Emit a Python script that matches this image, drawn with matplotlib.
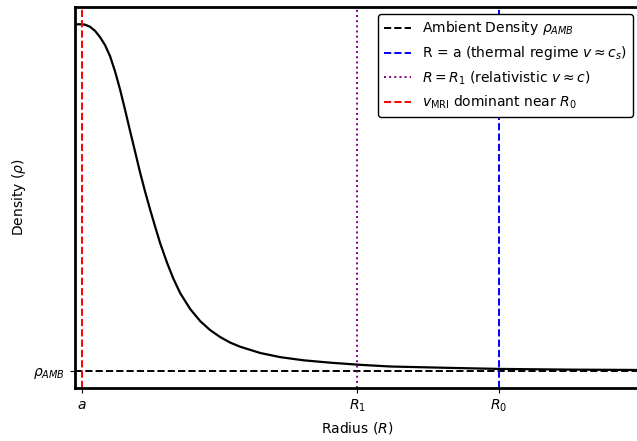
import matplotlib
matplotlib.use("Agg")
import matplotlib.pyplot as plt

# density profile (arbitrary units)
radius = [0.000, 0.106, 0.213, 0.319, 0.426, 0.532, 0.638, 0.745, 0.851, 0.957,
          1.064, 1.170, 1.277, 1.383, 1.489, 1.596, 1.702, 1.809, 1.957, 2.085,
          2.234, 2.447, 2.660, 2.872, 3.085, 3.298, 3.511, 3.936, 4.362, 4.851,
          5.426, 6.043, 6.702, 7.979, 9.043, 10.532, 12.021]
density = [11.00, 11.00, 10.99, 10.93, 10.81, 10.63, 10.40, 10.08, 9.64, 9.12,
           8.53, 7.92, 7.32, 6.72, 6.17, 5.65, 5.16, 4.68, 4.11, 3.67,
           3.24, 2.78, 2.43, 2.17, 1.97, 1.81, 1.69, 1.51, 1.39, 1.30,
           1.23, 1.17, 1.12, 1.08, 1.05, 1.03, 1.02]

rho_amb = 1.0
r_a = 0.15
r_1 = 6.0
r_0 = 9.0

x_ticks = [r_a, r_1, r_0]
x_ticklabels = ['$a$', '$R_1$', '$R_0$']

fig = plt.figure(figsize=(6.37, 4.41), dpi=100)
ax = fig.add_axes([0.1177, 0.1202, 0.887, 0.864])

ax.plot(radius, density, color='black', linewidth=1.6, solid_joinstyle='round')
ax.axhline(rho_amb, color='black', linestyle='--', linewidth=1.4,
           label=r'Ambient Density $\rho_{AMB}$')
ax.axvline(r_0, color='blue', linestyle='--', linewidth=1.4,
           label=r'R = a (thermal regime $v \approx c_s$)')
ax.axvline(r_1, color='purple', linestyle=':', linewidth=1.4,
           label=r'$R = R_1$ (relativistic $v \approx c$)')
ax.axvline(r_a, color='red', linestyle='--', linewidth=1.4,
           label=r'$v_{\mathrm{MRI}}$ dominant near $R_0$')

ax.set_xlim(0, 12)
ax.set_ylim(0.5, 11.5)
ax.set_xticks(x_ticks)
ax.set_xticklabels(x_ticklabels)
ax.set_yticks([rho_amb])
ax.set_yticklabels([r'$\rho_{AMB}$'])

ax.set_xlabel('Radius ($R$)')
ax.set_ylabel(r'Density ($\rho$)')

for s in ax.spines.values():
    s.set_linewidth(2)

leg = ax.legend(loc='upper right', framealpha=1)
leg.get_frame().set_edgecolor('black')

fig.savefig('out.png', dpi=100)
